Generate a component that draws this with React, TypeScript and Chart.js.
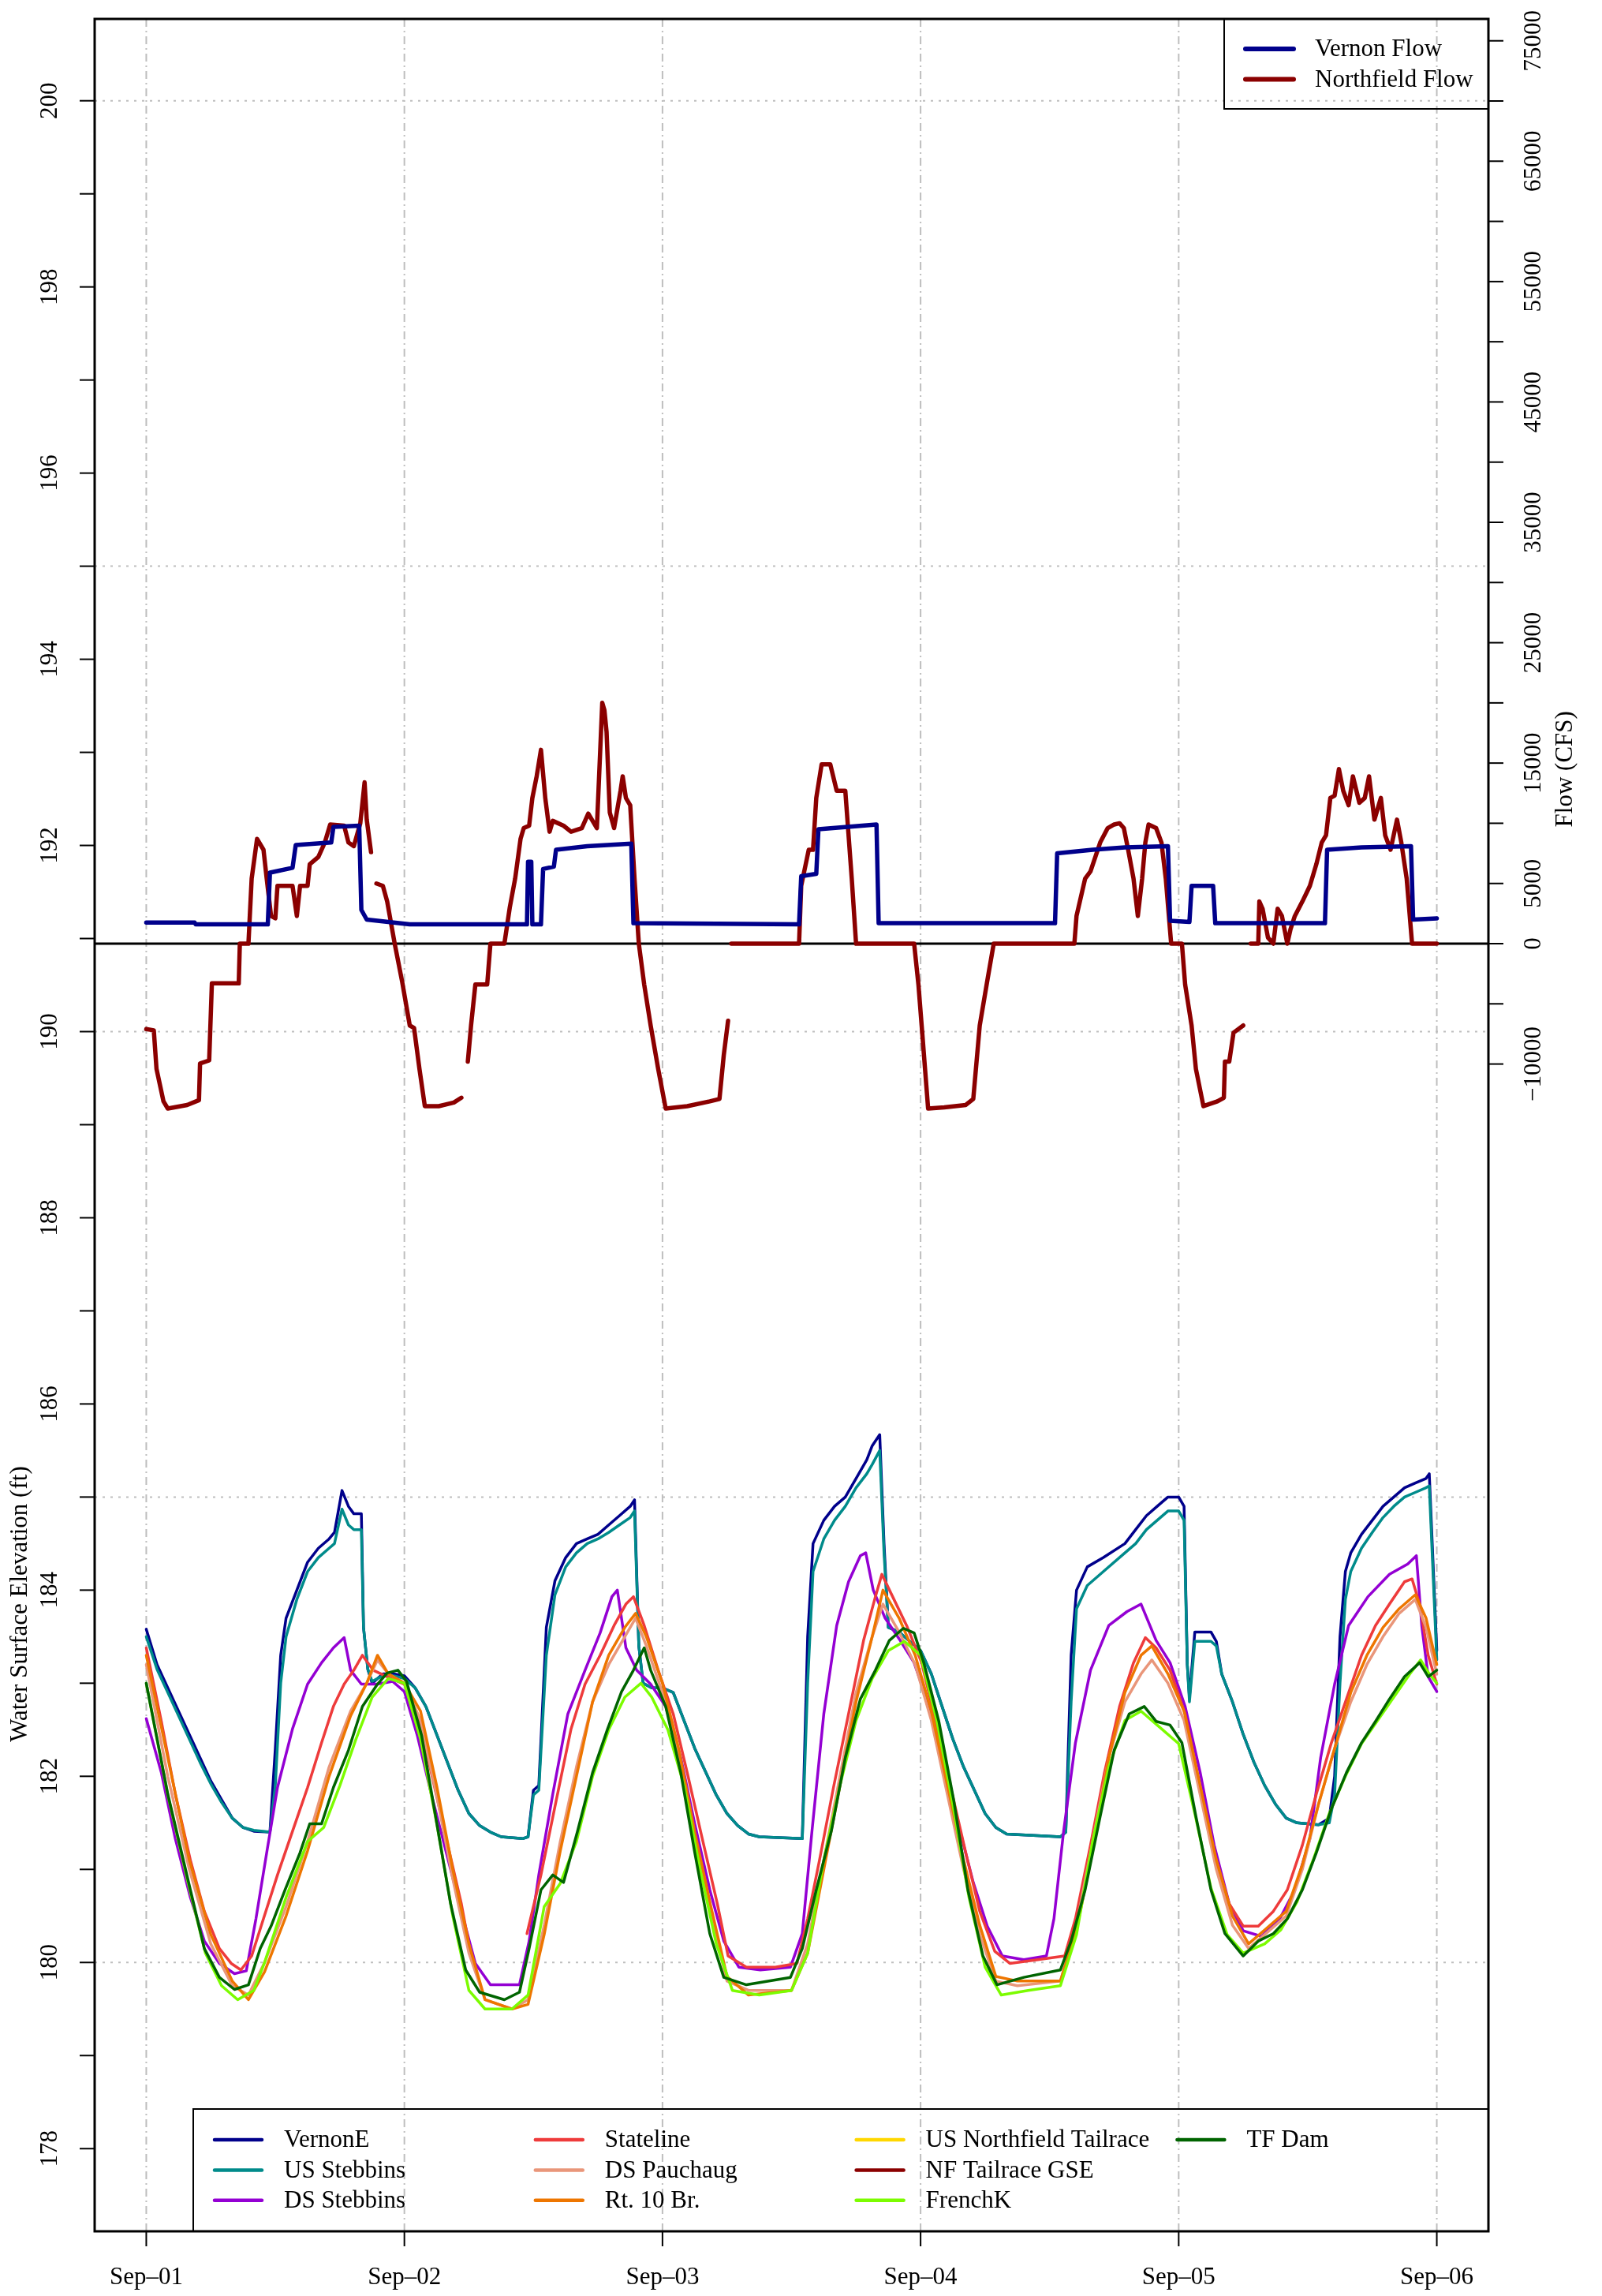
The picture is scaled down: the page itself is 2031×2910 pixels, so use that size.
import React, { useEffect, useRef } from "react";
import { Chart, registerables } from "chart.js";

Chart.register(...registerables);

type P = [number, number | null];

// ---- axis ticks / labels ----
const DAY_HOURS = [0, 24, 48, 72, 96, 120];
const DAY_LABELS = ["Sep\u201301", "Sep\u201302", "Sep\u201303", "Sep\u201304", "Sep\u201305", "Sep\u201306"];
const LEFT_TICKS = [178, 179, 180, 181, 182, 183, 184, 185, 186, 187, 188, 189, 190, 191, 192, 193, 194, 195, 196, 197, 198, 199, 200];
const LEFT_LABELS = [178, 180, 182, 184, 186, 188, 190, 192, 194, 196, 198, 200];
const LEFT_GRID = [180, 185, 190, 195, 200];
const RIGHT_TICKS = [-10000, -5000, 0, 5000, 10000, 15000, 20000, 25000, 30000, 35000, 40000, 45000, 50000, 55000, 60000, 65000, 70000, 75000];
const RIGHT_LABELS = [-10000, 0, 5000, 15000, 25000, 35000, 45000, 55000, 65000, 75000];

// ---- flow series (hours since Sep-01 00:00, cfs) ----
const vernonFlow: P[] = [
  [0, 1750], [4.5, 1750], [4.6, 1600], [11.3, 1600], [11.5, 5900], [13.6, 6300], [13.9, 8200], [17.2, 8400], [17.4, 9700], [19.8, 9800], [20.0, 2800], [20.5, 2000], [24.5, 1600],
  [35.4, 1600], [35.5, 6800], [35.8, 6800], [35.9, 1600], [36.7, 1600], [36.9, 6200], [37.9, 6400], [38.1, 7800], [41, 8100], [45.1, 8300], [45.3, 1700],
  [60.7, 1600], [60.9, 5600], [62.3, 5800], [62.5, 9500], [67.9, 9900], [68.1, 1700],
  [84.5, 1700], [84.7, 7500], [88, 7800], [91, 8000], [95.0, 8100], [95.2, 1900], [97.0, 1800], [97.2, 4800], [99.2, 4800], [99.4, 1700],
  [109.6, 1700], [109.8, 7800], [113, 8000], [117.6, 8100], [117.8, 2000], [120, 2100],
];
const northfieldFlow: P[] = [
  [0, -7100], [0.7, -7200], [0.95, -10400], [1.6, -13100], [2.0, -13700], [3.8, -13400], [4.9, -13000], [5.0, -9950], [5.85, -9700], [6.1, -3300], [8.6, -3300], [8.7, 0], [9.5, 0],
  [9.8, 5400], [10.3, 8700], [10.9, 7800], [11.2, 5400], [11.6, 2300], [12.0, 2100], [12.2, 4800], [13.6, 4800], [14.0, 2300], [14.3, 4800], [15.0, 4800], [15.2, 6600], [16.0, 7200],
  [16.6, 8400], [17.1, 9900], [18.4, 9800], [18.8, 8400], [19.3, 8100], [19.9, 10000], [20.3, 13400], [20.5, 10300], [20.9, 7600], [21.1, null], [21.4, 5000], [22.0, 4800], [22.4, 3500],
  [23.1, 0], [23.8, -3200], [24.5, -6800], [24.9, -7000], [25.4, -10400], [25.9, -13500], [27.2, -13500], [28.6, -13200], [29.3, -12800], [29.6, null],
  [29.9, -9800], [30.2, -6800], [30.6, -3400], [31.7, -3400], [32, 0], [33.3, 0], [33.8, 3000], [34.3, 5400], [34.8, 8700], [35.1, 9600], [35.6, 9800], [35.9, 12100], [36.3, 13900],
  [36.7, 16100], [37.1, 12100], [37.5, 9300], [37.8, 10200], [38.8, 9800], [39.5, 9300], [40.5, 9600], [41.1, 10800], [41.5, 10200], [41.9, 9600], [42.4, 20000], [42.6, 19400],
  [42.8, 17600], [43.1, 10900], [43.5, 9600], [44.1, 12700], [44.3, 13900], [44.6, 12100], [45, 11500], [45.4, 5400], [45.8, 0], [46.3, -3400], [46.9, -6800], [47.6, -10400],
  [48.3, -13700], [50.3, -13500], [52.4, -13100], [53.3, -12900], [53.7, -9250], [54.1, -6400], [54.3, null],
  [54.4, 0], [60.7, 0], [60.9, 4800], [61.6, 7800], [62.0, 7800], [62.3, 12100], [62.8, 14900], [63.6, 14900], [64.2, 12700], [65.0, 12700], [65.6, 5400], [66.0, 0],
  [71.4, 0], [71.8, -3400], [72.1, -6800], [72.7, -13700], [74.2, -13600], [76.2, -13400], [76.9, -12900], [77.5, -6800], [78.2, -3100], [78.8, 0],
  [86.3, 0], [86.5, 2300], [87.3, 5400], [87.8, 6000], [88.7, 8400], [89.4, 9600], [90.0, 9900], [90.5, 10000], [90.9, 9600], [91.3, 7800], [91.8, 5400], [92.2, 2300], [92.6, 5400],
  [92.9, 8400], [93.2, 9900], [93.9, 9600], [94.4, 8400], [94.8, 5400], [95.3, 0], [96.3, 0], [96.6, -3400], [97.2, -6800], [97.6, -10400], [98.3, -13500], [99.6, -13100],
  [100.2, -12800], [100.3, -9800], [100.7, -9800], [101.1, -7400], [102, -6800], [102.2, null],
  [102.7, 0], [103.4, 0], [103.5, 3500], [103.8, 2900], [104.3, 500], [104.8, 0], [105.2, 2900], [105.6, 2300], [106.1, 0], [106.4, 1200], [106.8, 2300], [107.5, 3500], [108.2, 4800],
  [108.8, 6600], [109.3, 8400], [109.7, 9000], [110.1, 12100], [110.5, 12300], [110.9, 14500], [111.3, 12700], [111.8, 11500], [112.2, 13900], [112.8, 11700], [113.3, 12100],
  [113.7, 13900], [114.2, 10300], [114.8, 12100], [115.2, 9000], [115.7, 7800], [116.3, 10300], [116.7, 8400], [117.2, 5400], [117.7, 0], [120, 0],
];

// ---- water surface elevations (hours, ft) ----
const vernonE: P[] = [
  [0, 183.58], [1, 183.2], [2, 182.95], [3, 182.7], [4, 182.45], [5, 182.2], [6, 181.95], [7, 181.75], [8, 181.55], [9, 181.45], [10, 181.41], [11.5, 181.4], [12, 182.3], [12.5, 183.3],
  [13, 183.7], [14, 184.0], [15, 184.3], [16, 184.45], [17, 184.55], [17.5, 184.62], [18.2, 185.07], [18.8, 184.9], [19.3, 184.82], [20.0, 184.82], [20.2, 183.6], [20.6, 183.15],
  [21, 183.0], [22, 183.1], [23, 183.1], [24, 183.08], [25, 182.95], [26, 182.75], [27, 182.45], [28, 182.15], [29, 181.85], [30, 181.6], [31, 181.47], [32, 181.4], [33, 181.35],
  [35, 181.33], [35.5, 181.35], [36, 181.85], [36.5, 181.9], [37.2, 183.6], [38, 184.1], [39, 184.35], [40, 184.5], [41, 184.55], [42, 184.6], [43, 184.7], [44, 184.8], [45, 184.9],
  [45.4, 184.97], [45.8, 183.4], [46.2, 183.0], [47, 182.95], [48, 182.95], [49, 182.9], [50, 182.6], [51, 182.3], [52, 182.05], [53, 181.8], [54, 181.6], [55, 181.47], [56, 181.38],
  [57, 181.35], [61, 181.33], [61.5, 183.5], [62, 184.5], [63, 184.75], [64, 184.9], [65, 185.0], [66, 185.2], [67, 185.4], [67.5, 185.55], [68.2, 185.67], [68.6, 184.5], [69, 183.6],
  [70, 183.55], [71, 183.45], [72, 183.35], [73, 183.1], [74, 182.75], [75, 182.4], [76, 182.1], [77, 181.85], [78, 181.6], [79, 181.45], [80, 181.38], [85, 181.35], [85.5, 181.4],
  [86, 183.3], [86.5, 184.0], [87.5, 184.25], [89, 184.35], [91, 184.5], [92, 184.65], [93, 184.8], [94, 184.9], [95, 185.0], [96, 185.0], [96.5, 184.9], [96.8, 183.2], [97, 182.85],
  [97.5, 183.55], [99, 183.55], [99.5, 183.45], [100, 183.1], [101, 182.8], [102, 182.45], [103, 182.15], [104, 181.9], [105, 181.7], [106, 181.55], [107, 181.5], [109, 181.48],
  [110, 181.55], [110.5, 182.0], [111, 183.5], [111.5, 184.2], [112, 184.4], [113, 184.6], [114, 184.75], [115, 184.9], [116, 185.0], [117, 185.1], [118, 185.15], [119, 185.2],
  [119.3, 185.25], [120, 183.35],
];
const usStebbins: P[] = [
  [0, 183.5], [1, 183.15], [2, 182.9], [3, 182.65], [4, 182.4], [5, 182.15], [6, 181.92], [7, 181.72], [8, 181.55], [9, 181.45], [10, 181.42], [11.5, 181.4], [12, 181.9], [12.5, 183.0],
  [13, 183.5], [14, 183.9], [15, 184.2], [16, 184.35], [17, 184.45], [17.5, 184.5], [18.2, 184.87], [18.8, 184.7], [19.3, 184.65], [20.0, 184.65], [20.2, 183.6], [20.6, 183.15],
  [21, 183.02], [22, 183.08], [23, 183.08], [24, 183.05], [25, 182.95], [26, 182.75], [27, 182.45], [28, 182.15], [29, 181.85], [30, 181.6], [31, 181.47], [32, 181.4], [33, 181.35],
  [35, 181.33], [35.5, 181.35], [36, 181.8], [36.5, 181.85], [37.2, 183.3], [38, 183.95], [39, 184.25], [40, 184.4], [41, 184.5], [42, 184.55], [43, 184.62], [44, 184.7], [45, 184.78],
  [45.4, 184.85], [45.8, 183.4], [46.2, 183.0], [47, 182.95], [48, 182.95], [49, 182.9], [50, 182.6], [51, 182.3], [52, 182.05], [53, 181.8], [54, 181.6], [55, 181.47], [56, 181.38],
  [57, 181.35], [61, 181.33], [61.5, 183.0], [62, 184.2], [63, 184.55], [64, 184.75], [65, 184.9], [66, 185.1], [67, 185.25], [67.5, 185.35], [68.2, 185.5], [68.6, 184.4], [69, 183.6],
  [70, 183.55], [71, 183.45], [72, 183.35], [73, 183.1], [74, 182.75], [75, 182.4], [76, 182.1], [77, 181.85], [78, 181.6], [79, 181.45], [80, 181.38], [85, 181.35], [85.5, 181.4],
  [86, 182.8], [86.5, 183.8], [87.5, 184.05], [89, 184.2], [91, 184.4], [92, 184.5], [93, 184.65], [94, 184.75], [95, 184.85], [96, 184.85], [96.5, 184.75], [96.8, 183.2], [97, 182.8],
  [97.5, 183.45], [99, 183.45], [99.5, 183.4], [100, 183.1], [101, 182.8], [102, 182.45], [103, 182.15], [104, 181.9], [105, 181.7], [106, 181.55], [107, 181.5], [109, 181.48],
  [110, 181.5], [110.5, 181.8], [111, 183.0], [111.5, 183.9], [112, 184.2], [113, 184.45], [114, 184.62], [115, 184.78], [116, 184.9], [117, 185.0], [118, 185.05], [119, 185.1],
  [119.3, 185.12], [120, 183.25],
];
const dsStebbins: P[] = [
  [0, 182.62], [1.4, 182.04], [2.7, 181.33], [4.1, 180.7], [5.4, 180.23], [6.8, 179.99], [8.2, 179.88], [9.3, 179.91], [10.2, 180.47], [11.2, 181.18], [12.2, 181.88], [13.6, 182.51],
  [15.0, 182.99], [16.3, 183.22], [17.4, 183.38], [18.4, 183.49], [19.0, 183.14], [20.0, 182.99], [21.5, 182.99], [22.9, 183.02], [24, 182.91], [25.2, 182.44], [26.5, 181.81],
  [27.9, 181.18], [29.3, 180.55], [30.6, 179.99], [32, 179.76], [34.7, 179.76], [35.6, 180.23], [36.5, 180.94], [37.8, 181.81], [39.2, 182.67], [40.8, 183.14], [42.2, 183.54],
  [43.3, 183.93], [43.8, 184.0], [44.6, 183.38], [45.6, 183.14], [46.9, 182.99], [48.3, 182.75], [49.7, 182.2], [51.0, 181.49], [52.4, 180.78], [53.7, 180.23], [55.1, 179.95],
  [57.1, 179.92], [59.9, 179.95], [61, 180.31], [61.9, 181.41], [63, 182.67], [64.2, 183.62], [65.3, 184.09], [66.4, 184.37], [66.9, 184.4], [67.6, 184.0], [68.7, 183.7],
  [70.1, 183.46], [71.4, 183.22], [72.8, 182.75], [74.1, 182.12], [75.5, 181.49], [76.9, 180.86], [78.2, 180.39], [79.6, 180.07], [81.6, 180.03], [83.7, 180.07], [84.4, 180.47],
  [85.3, 181.41], [86.4, 182.36], [87.8, 183.14], [89.5, 183.62], [91.2, 183.77], [92.5, 183.85], [93.9, 183.46], [95.2, 183.22], [96.6, 182.75], [98, 182.04], [99.3, 181.26],
  [100.7, 180.63], [102, 180.34], [103.7, 180.28], [105.4, 180.47], [106.8, 180.78], [108.2, 181.33], [109.2, 182.2], [110.5, 182.99], [111.8, 183.62], [113.6, 183.93],
  [115.6, 184.17], [117.3, 184.28], [118.1, 184.37], [118.6, 183.62], [119.2, 183.07], [120, 182.91],
];
const stateline: P[] = [
  [0, 183.38], [1.4, 182.59], [2.7, 181.81], [4.1, 181.1], [5.4, 180.55], [6.8, 180.15], [7.9, 179.99], [8.8, 179.92], [9.8, 180.07], [10.9, 180.47], [12.2, 180.94], [13.6, 181.41],
  [15, 181.88], [16.3, 182.36], [17.4, 182.75], [18.4, 182.99], [19.3, 183.14], [20.1, 183.3], [21.1, 183.14], [22.4, 183.07], [24, 182.99], [25.2, 182.67], [26.5, 182.04],
  [27.9, 181.33], [29.3, 180.63], [30.2, 180.07], [30.3, null], [35.4, 180.31], [36.7, 180.94], [38.1, 181.73], [39.5, 182.51], [40.8, 182.99], [42.2, 183.3], [43.5, 183.62],
  [44.6, 183.85], [45.3, 183.93], [46.3, 183.62], [47.6, 183.14], [49, 182.67], [50.3, 182.04], [51.7, 181.33], [53.1, 180.63], [54.1, 180.07], [55.8, 179.95], [58.5, 179.95],
  [60.5, 179.99], [61.5, 180.47], [62.6, 181.1], [63.9, 181.88], [65.3, 182.67], [66.7, 183.46], [67.8, 183.93], [68.4, 184.17], [69.4, 183.93], [70.7, 183.62], [72.1, 183.22],
  [73.4, 182.59], [74.8, 181.88], [76.2, 181.18], [77.5, 180.55], [78.9, 180.12], [80.3, 179.99], [82.9, 180.03], [85.4, 180.07], [86.4, 180.47], [87.8, 181.26], [89.1, 182.04],
  [90.5, 182.75], [91.8, 183.22], [92.9, 183.49], [93.9, 183.38], [95.2, 183.14], [96.6, 182.67], [98, 181.88], [99.3, 181.18], [100.7, 180.63], [102, 180.39], [103.4, 180.39],
  [104.8, 180.55], [106.1, 180.78], [107.5, 181.26], [108.8, 181.81], [110.2, 182.36], [111.6, 182.83], [113, 183.3], [114.3, 183.62], [115.6, 183.85], [117, 184.09],
  [117.7, 184.12], [118.4, 183.85], [119.2, 183.3], [120, 182.99],
];
const dsPauchaug: P[] = [
  [0, 183.2], [2, 182.0], [4, 181.0], [6, 180.2], [8, 179.75], [9.5, 179.65], [11, 180.0], [13, 180.6], [15, 181.3], [17, 182.1], [19, 182.7], [20.5, 183.0], [21.5, 183.25],
  [22.5, 183.1], [24, 183.0], [25.5, 182.6], [27, 181.8], [28.5, 180.9], [30, 180.1], [31.5, 179.6], [34, 179.5], [35.5, 179.6], [37, 180.4], [38.5, 181.3], [40, 182.1],
  [41.5, 182.8], [43, 183.2], [44.5, 183.5], [45.5, 183.7], [46.5, 183.4], [48, 182.9], [49.5, 182.2], [51, 181.3], [52.5, 180.5], [54, 179.8], [56, 179.7], [60, 179.7],
  [61.5, 180.2], [63, 181.1], [64.5, 182.0], [66, 182.9], [67.5, 183.5], [68.5, 183.85], [70, 183.55], [71.5, 183.2], [73, 182.6], [74.5, 181.8], [76, 181.0], [77.5, 180.3],
  [79, 179.8], [81, 179.75], [85, 179.8], [86.5, 180.4], [88, 181.3], [89.5, 182.2], [91, 182.8], [92.5, 183.1], [93.5, 183.25], [95, 183.0], [96.5, 182.6], [98, 181.8],
  [99.5, 181.0], [101, 180.4], [102.5, 180.15], [104, 180.3], [106, 180.5], [107.5, 181.0], [109, 181.7], [110.5, 182.3], [112, 182.8], [113.5, 183.2], [115, 183.5],
  [116.5, 183.75], [118, 183.9], [119, 183.6], [120, 183.1],
];
const rt10Br: P[] = [
  [0, 183.3], [2, 182.2], [4, 181.1], [6, 180.3], [8, 179.8], [9.5, 179.6], [11, 179.9], [13, 180.5], [15, 181.2], [17, 182.0], [19, 182.65], [20.5, 183.0], [21.5, 183.3],
  [22.5, 183.1], [24, 183.0], [25.5, 182.7], [27, 181.9], [28.5, 181.0], [30, 180.2], [31.5, 179.6], [34, 179.5], [35.5, 179.55], [37, 180.3], [38.5, 181.2], [40, 182.0],
  [41.5, 182.8], [43, 183.3], [44.5, 183.6], [45.5, 183.75], [46.5, 183.5], [48, 183.0], [49.5, 182.3], [51, 181.4], [52.5, 180.6], [54, 179.85], [56, 179.65], [60, 179.7],
  [61.5, 180.1], [63, 181.0], [64.5, 181.9], [66, 182.8], [67.5, 183.5], [68.5, 184.0], [70, 183.7], [71.5, 183.3], [73, 182.7], [74.5, 181.9], [76, 181.1], [77.5, 180.4],
  [79, 179.85], [81, 179.8], [85, 179.8], [86.5, 180.35], [88, 181.2], [89.5, 182.2], [91, 182.9], [92.5, 183.3], [93.5, 183.4], [95, 183.1], [96.5, 182.7], [98, 181.9],
  [99.5, 181.1], [101, 180.5], [102.5, 180.2], [104, 180.35], [106, 180.55], [107.5, 181.05], [109, 181.7], [110.5, 182.3], [112, 182.9], [113.5, 183.3], [115, 183.6],
  [116.5, 183.8], [118, 183.95], [119, 183.7], [120, 183.2],
];
const usNorthfieldTailrace: P[] = [];
const nfTailraceGSE: P[] = [];
const frenchK: P[] = [
  [0, 183.0], [2, 181.8], [4, 180.8], [5.5, 180.1], [7, 179.75], [8.5, 179.6], [10, 179.7], [11, 180.0], [13, 180.7], [15, 181.3], [16.5, 181.45], [18, 181.9], [19.5, 182.4],
  [21, 182.85], [22.5, 183.05], [24, 183.0], [25.5, 182.4], [27, 181.5], [28.5, 180.5], [30, 179.7], [31.5, 179.5], [34, 179.5], [35.5, 179.65], [37, 180.6], [38.5, 180.85],
  [40, 181.3], [41.5, 182.0], [43, 182.5], [44.5, 182.85], [46, 183.0], [47, 182.85], [48.5, 182.5], [50, 181.9], [51.5, 181.0], [53, 180.2], [54.5, 179.7], [57, 179.65],
  [60, 179.7], [61.5, 180.1], [63, 181.1], [64.5, 181.9], [66, 182.6], [67.5, 183.05], [69, 183.35], [70.5, 183.45], [72, 183.3], [73.5, 182.6], [75, 181.7], [76.5, 180.7],
  [78, 179.95], [79.5, 179.65], [82, 179.7], [85, 179.75], [86.5, 180.3], [88, 181.3], [89.5, 182.1], [91, 182.6], [92.5, 182.7], [94, 182.55], [96, 182.35], [97.5, 181.6],
  [99, 180.8], [100.5, 180.3], [102, 180.1], [104, 180.2], [105.5, 180.35], [107, 180.65], [108.5, 181.1], [110, 181.6], [111.5, 182.0], [113, 182.35], [114.5, 182.6],
  [116, 182.85], [117.5, 183.1], [118.5, 183.25], [119.3, 183.1], [120, 183.0],
];
const tfDam: P[] = [
  [0, 183.0], [2, 181.81], [4.1, 180.78], [5.4, 180.15], [6.8, 179.84], [8.2, 179.71], [9.5, 179.76], [10.6, 180.15], [11.6, 180.39], [12.9, 180.78], [14.3, 181.18], [15.2, 181.49],
  [16.3, 181.49], [17.4, 181.88], [18.8, 182.28], [20.1, 182.75], [21.5, 182.99], [22.4, 183.11], [23.4, 183.14], [24.2, 183.02], [25.6, 182.44], [26.9, 181.57], [28.3, 180.63],
  [29.7, 179.92], [31, 179.68], [33.3, 179.6], [34.7, 179.68], [35.6, 180.15], [36.7, 180.78], [37.8, 180.94], [38.8, 180.86], [40.1, 181.41], [41.5, 182.04], [42.9, 182.51],
  [44.2, 182.91], [45.3, 183.14], [46.3, 183.38], [46.9, 183.14], [48.3, 182.75], [49.7, 182.04], [51.0, 181.18], [52.4, 180.31], [53.7, 179.84], [55.8, 179.76], [59.9, 179.84],
  [61, 180.15], [62.3, 180.78], [63.7, 181.41], [65, 182.2], [66.4, 182.83], [67.8, 183.14], [69.1, 183.46], [70.4, 183.59], [71.4, 183.54], [72.3, 183.22], [73.7, 182.59],
  [75.1, 181.73], [76.4, 180.78], [77.8, 180.07], [79.1, 179.76], [81.6, 179.84], [85, 179.92], [86, 180.23], [87.3, 180.78], [88.7, 181.57], [90, 182.28], [91.4, 182.67],
  [92.8, 182.75], [93.9, 182.59], [95.2, 182.55], [96.3, 182.36], [97.6, 181.57], [99, 180.78], [100.3, 180.31], [102, 180.07], [103.4, 180.23], [104.8, 180.31], [106.1, 180.47],
  [107.5, 180.78], [108.8, 181.18], [110.2, 181.65], [111.6, 182.04], [113, 182.36], [114.3, 182.59], [115.6, 182.83], [117, 183.07], [118.4, 183.22], [119.2, 183.07], [120, 183.14],
];

const FLOW_SERIES = [
  { label: "Vernon Flow", color: "#00008B", data: vernonFlow },
  { label: "Northfield Flow", color: "#8B0000", data: northfieldFlow },
];
const LEVEL_SERIES = [
  { label: "VernonE", color: "#00008B", data: vernonE },
  { label: "US Stebbins", color: "#008B8B", data: usStebbins },
  { label: "DS Stebbins", color: "#9400D3", data: dsStebbins },
  { label: "Stateline", color: "#EE3B3B", data: stateline },
  { label: "DS Pauchaug", color: "#E9967A", data: dsPauchaug },
  { label: "Rt. 10 Br.", color: "#EE7600", data: rt10Br },
  { label: "US Northfield Tailrace", color: "#FFD700", data: usNorthfieldTailrace },
  { label: "NF Tailrace GSE", color: "#8B0000", data: nfTailraceGSE },
  { label: "FrenchK", color: "#7CFC00", data: frenchK },
  { label: "TF Dam", color: "#006400", data: tfDam },
];

const FONT = '31px "Liberation Serif", "Times New Roman", serif';

function vText(ctx: CanvasRenderingContext2D, t: string, x: number, y: number) {
  ctx.save();
  ctx.translate(x, y);
  ctx.rotate(-Math.PI / 2);
  ctx.textAlign = "center";
  ctx.textBaseline = "middle";
  ctx.fillText(t, 0, 0);
  ctx.restore();
}
function seg(ctx: CanvasRenderingContext2D, x1: number, y1: number, x2: number, y2: number) {
  ctx.beginPath();
  ctx.moveTo(x1, y1);
  ctx.lineTo(x2, y2);
  ctx.stroke();
}

const overlay = {
  id: "overlay",
  beforeDatasetsDraw(chart: any) {
    const { ctx, chartArea: a, scales } = chart;
    ctx.save();
    ctx.strokeStyle = "#BEBEBE";
    ctx.lineWidth = 2;
    ctx.setLineDash([10, 5, 2, 5]);
    for (const h of DAY_HOURS) {
      const px = scales.x.getPixelForValue(h);
      seg(ctx, px, a.top, px, a.bottom);
    }
    ctx.setLineDash([3, 7]);
    for (const v of LEFT_GRID) {
      const py = scales.yL.getPixelForValue(v);
      seg(ctx, a.left, py, a.right, py);
    }
    ctx.setLineDash([]);
    ctx.strokeStyle = "#000";
    ctx.lineWidth = 3;
    const z = scales.yR.getPixelForValue(0);
    seg(ctx, a.left, z, a.right, z);
    ctx.restore();
  },
  afterDatasetsDraw(chart: any) {
    const { ctx, chartArea: a, scales } = chart;
    ctx.save();
    ctx.strokeStyle = "#000";
    ctx.fillStyle = "#000";
    ctx.lineWidth = 3;
    ctx.strokeRect(a.left, a.top, a.right - a.left, a.bottom - a.top);
    ctx.lineWidth = 2;
    ctx.font = FONT;
    DAY_HOURS.forEach((h, i) => {
      const px = scales.x.getPixelForValue(h);
      seg(ctx, px, a.bottom, px, a.bottom + 19);
      ctx.textAlign = "center";
      ctx.textBaseline = "middle";
      ctx.fillText(DAY_LABELS[i], px, a.bottom + 59);
    });
    for (const v of LEFT_TICKS) {
      const py = scales.yL.getPixelForValue(v);
      seg(ctx, a.left - 19, py, a.left, py);
    }
    for (const v of LEFT_LABELS) vText(ctx, String(v), a.left - 56, scales.yL.getPixelForValue(v));
    for (const v of RIGHT_TICKS) {
      const py = scales.yR.getPixelForValue(v);
      seg(ctx, a.right, py, a.right + 19, py);
    }
    for (const v of RIGHT_LABELS) {
      const t = v < 0 ? "\u2212" + String(-v) : String(v);
      vText(ctx, t, a.right + 58, scales.yR.getPixelForValue(v));
    }
    vText(ctx, "Flow (CFS)", a.right + 98, scales.yR.getPixelForValue(14500));
    vText(ctx, "Water Surface Elevation (ft)", a.left - 94, scales.yL.getPixelForValue(183.85));

    ctx.lineWidth = 2;
    const bx = a.right - 335;
    ctx.strokeRect(bx, a.top, a.right - bx, 114);
    ctx.textAlign = "left";
    ctx.textBaseline = "middle";
    FLOW_SERIES.forEach((s, i) => {
      const y = a.top + 38 + i * 38.5;
      ctx.strokeStyle = s.color;
      ctx.lineWidth = 6;
      ctx.lineCap = "round";
      seg(ctx, bx + 27, y, bx + 88, y);
      ctx.fillText(s.label, bx + 115, y + 1);
    });
    ctx.strokeStyle = "#000";
    ctx.lineWidth = 2;
    ctx.lineCap = "butt";
    const lx = a.left + 125;
    const ly = a.bottom - 155;
    ctx.strokeRect(lx, ly, a.right - lx, a.bottom - ly);
    LEVEL_SERIES.forEach((s, i) => {
      const col = Math.floor(i / 3);
      const row = i % 3;
      const x0 = lx + 27 + col * 406.8;
      const y = ly + 39 + row * 38.4;
      ctx.strokeStyle = s.color;
      ctx.lineWidth = 4.5;
      ctx.lineCap = "round";
      seg(ctx, x0, y, x0 + 60, y);
      ctx.fillText(s.label, x0 + 88, y + 1);
    });
    ctx.restore();
  },
};

function toXY(d: P[]) {
  return d.map(([x, y]) => ({ x, y }));
}

export default function App() {
  const ref = useRef<HTMLCanvasElement | null>(null);
  useEffect(() => {
    if (!ref.current) return;
    const datasets: any[] = [];
    // Chart.js paints dataset 0 last (on top): flows first, then levels in reverse legend order
    FLOW_SERIES.forEach((s) =>
      datasets.push({
        label: s.label,
        data: toXY(s.data),
        yAxisID: "yR",
        borderColor: s.color,
        borderWidth: 5.5,
        pointRadius: 0,
        tension: 0,
        spanGaps: false,
        borderCapStyle: "round",
        borderJoinStyle: "round",
      })
    );
    [...LEVEL_SERIES].reverse().forEach((s) =>
      datasets.push({
        label: s.label,
        data: toXY(s.data),
        yAxisID: "yL",
        borderColor: s.color,
        borderWidth: 3.5,
        pointRadius: 0,
        tension: 0,
        spanGaps: false,
        borderCapStyle: "round",
        borderJoinStyle: "round",
      })
    );
    const chart = new Chart(ref.current, {
      type: "line",
      data: { datasets },
      options: {
        animation: false,
        responsive: false,
        maintainAspectRatio: false,
        devicePixelRatio: 1,
        layout: { padding: { left: 120, top: 24, right: 144, bottom: 82 } },
        plugins: { legend: { display: false }, tooltip: { enabled: false } },
        scales: {
          x: { type: "linear", min: -4.8, max: 124.8, display: false },
          yL: { type: "linear", position: "left", min: 177.112, max: 200.879, display: false },
          yR: { type: "linear", position: "right", min: -106967, max: 76817, display: false },
        },
      },
      plugins: [overlay],
    });
    return () => chart.destroy();
  }, []);
  return (
    <div style={{ position: "absolute", left: 0, top: 0, width: 2031, height: 2910, background: "#fff" }}>
      <canvas ref={ref} width={2031} height={2910} style={{ display: "block" }} />
    </div>
  );
}
